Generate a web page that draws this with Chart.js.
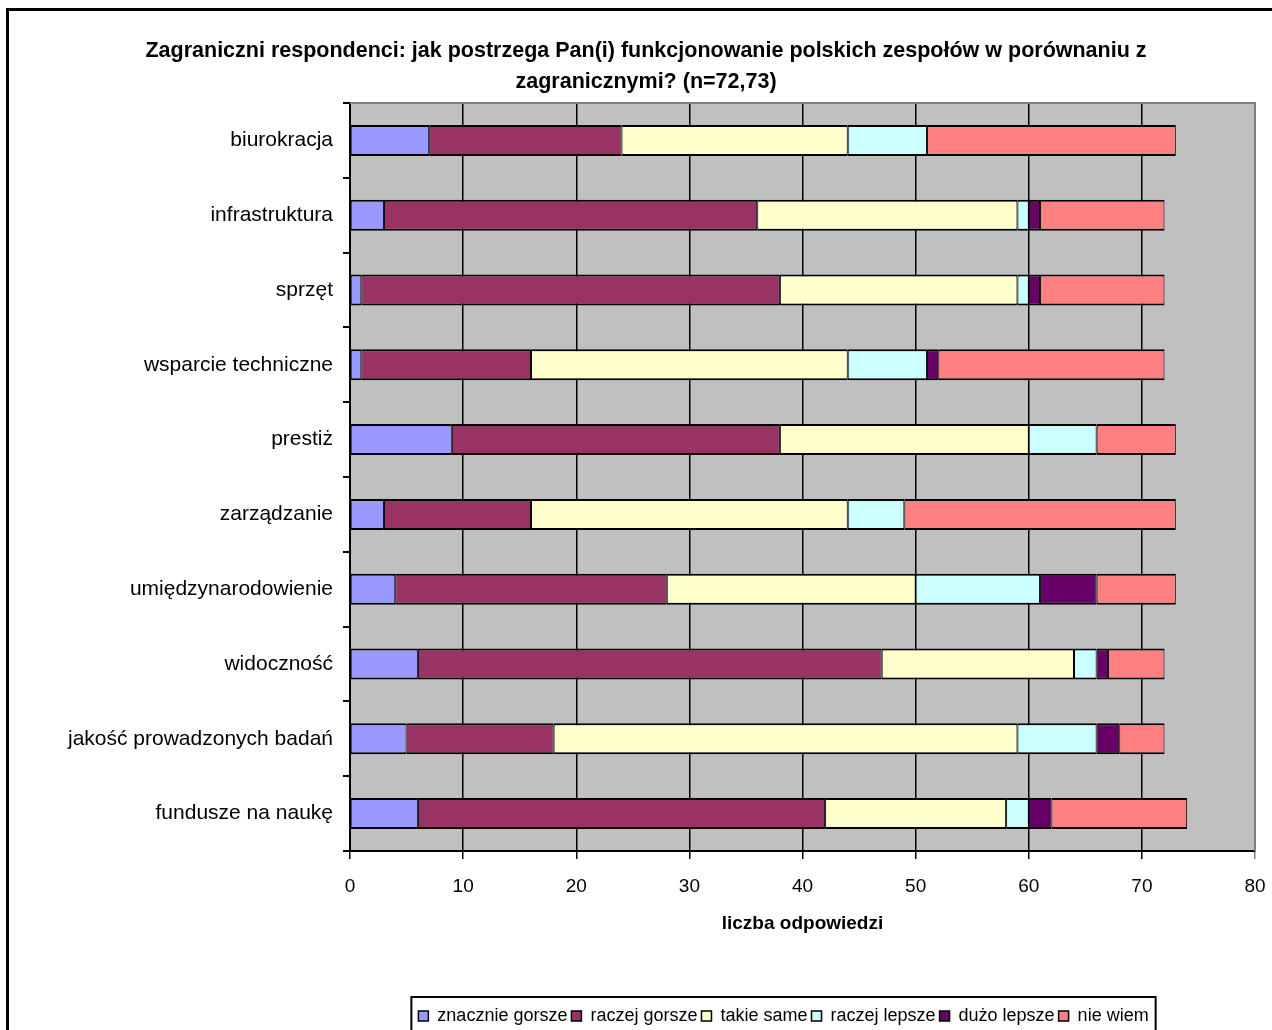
<!DOCTYPE html>
<html>
<head>
<meta charset="utf-8">
<script src="https://cdn.jsdelivr.net/npm/chart.js@4/dist/chart.umd.min.js"></script>
<style>
  html, body { margin: 0; padding: 0; background: #fff; overflow: hidden; }
  #wrap { width: 1272px; height: 1030px; position: relative; }
</style>
</head>
<body>
<div id="wrap"><canvas id="surveyChart"></canvas></div>
<script>
const FONT = '"Liberation Sans", Arial, sans-serif';

// categories, top to bottom
const categories = ['biurokracja', 'infrastruktura', 'sprzęt', 'wsparcie techniczne', 'prestiż',
  'zarządzanie', 'umiędzynarodowienie', 'widoczność', 'jakość prowadzonych badań', 'fundusze na naukę'];

// answers per category
const znacznieGorsze = [7, 3, 1, 1, 9, 3, 4, 6, 5, 6];
const raczejGorsze   = [17, 33, 37, 15, 29, 13, 24, 41, 13, 36];
const takieSame      = [20, 23, 21, 28, 22, 28, 22, 17, 41, 16];
const raczejLepsze   = [7, 1, 1, 7, 6, 5, 11, 2, 7, 2];
const duzoLepsze     = [0, 1, 1, 1, 0, 0, 5, 1, 2, 2];
const nieWiem        = [22, 11, 11, 20, 7, 24, 7, 5, 4, 12];

const xTicks = [0, 10, 20, 30, 40, 50, 60, 70, 80];

const LEGEND_CENTER = 783.5; // legend sits right of centre in the original
const LEGEND_TOP = 1003;
const PLOT_BOTTOM = 851;

function series(label, data, color) {
  return {
    label: label,
    data: data,
    backgroundColor: color,
    borderColor: '#000',
    borderWidth: { top: 2, bottom: 2, left: 1, right: 1 },
    borderSkipped: false,
    categoryPercentage: 0.83,
    barPercentage: 0.5
  };
}

// gray plot background + gray top/right frame + outer frame + legend box
const decorations = {
  id: 'decorations',
  beforeDraw(chart) {
    const { ctx, chartArea: a } = chart;
    ctx.save();
    ctx.fillStyle = '#c0c0c0';
    ctx.fillRect(a.left, a.top, a.right - a.left, a.bottom - a.top);
    ctx.restore();

    // move the legend row to where it is in the original
    const lg = chart.legend;
    if (lg && !lg._moved) {
      const dx = LEGEND_CENTER - (lg.left + lg.right) / 2;
      const dy = LEGEND_TOP - lg.top;
      lg.left += dx; lg.right += dx;
      lg.top += dy; lg.bottom += dy;
      lg._moved = true;
    }
  },
  afterDraw(chart) {
    const { ctx, chartArea: a } = chart;
    ctx.save();
    ctx.strokeStyle = '#808080';
    ctx.lineWidth = 2;
    ctx.beginPath();
    ctx.moveTo(a.left, a.top);
    ctx.lineTo(a.right, a.top);
    ctx.lineTo(a.right, a.bottom);
    ctx.stroke();

    // outer frame (only left and top edges are in view)
    ctx.strokeStyle = '#000';
    ctx.lineWidth = 3;
    ctx.beginPath();
    ctx.moveTo(7.5, 1040);
    ctx.lineTo(7.5, 9.5);
    ctx.lineTo(1280, 9.5);
    ctx.stroke();

    // box around the legend
    const lg = chart.legend;
    if (lg && lg.lineWidths) {
      const pad = lg.options.labels.padding;
      const rowW = lg.lineWidths[0];
      const start = (lg.left + pad + lg.right - rowW) / 2;
      const l = start - 7;
      const r = start + rowW - pad + 7;
      ctx.lineWidth = 2;
      ctx.strokeRect(l, 997, r - l, 60);
    }
    ctx.restore();
  }
};

const ctx = document.getElementById('surveyChart').getContext('2d');
new Chart(ctx, {
  type: 'bar',
  data: {
    labels: categories,
    datasets: [
      series('znacznie gorsze', znacznieGorsze, '#9999ff'),
      series('raczej gorsze', raczejGorsze, '#993366'),
      series('takie same', takieSame, '#ffffcc'),
      series('raczej lepsze', raczejLepsze, '#ccffff'),
      series('dużo lepsze', duzoLepsze, '#660066'),
      series('nie wiem', nieWiem, '#ff8080')
    ]
  },
  options: {
    indexAxis: 'y',
    responsive: true,
    maintainAspectRatio: false,
    animation: false,
    layout: { padding: { left: 37, right: 17, top: 0, bottom: 0 } },
    plugins: {
      title: {
        display: true,
        text: ['Zagraniczni respondenci: jak postrzega Pan(i) funkcjonowanie polskich zespołów w porównaniu z',
               'zagranicznymi? (n=72,73)'],
        color: '#000',
        font: { family: FONT, size: 21.5, weight: 'bold', lineHeight: 31 / 21.5 },
        padding: { top: 36, bottom: 5 }
      },
      legend: {
        display: true,
        position: 'bottom',
        labels: {
          color: '#000',
          font: { family: FONT, size: 18, lineHeight: 1 },
          boxWidth: 10,
          boxHeight: 10,
          padding: 4
        }
      },
      tooltip: { enabled: false }
    },
    scales: {
      x: {
        stacked: true,
        min: 0,
        max: 80,
        afterBuildTicks(scale) {
          scale.ticks = xTicks.map(v => ({ value: v }));
        },
        afterFit(scale) {
          const lg = scale.chart.legend;
          scale.height = 1030 - (lg ? lg.height : 30) - PLOT_BOTTOM;
          scale.paddingRight = 10;
        },
        grid: {
          color: c => (c.tick && c.tick.value === 80 ? '#808080' : '#000'),
          lineWidth: 1.5,
          tickLength: 8
        },
        border: { color: '#000', width: 2 },
        ticks: { color: '#000', font: { family: FONT, size: 19 }, padding: 16 },
        title: {
          display: true,
          text: 'liczba odpowiedzi',
          color: '#000',
          font: { family: FONT, size: 19, weight: 'bold' },
          padding: { top: 0, bottom: 63 }
        }
      },
      y: {
        stacked: true,
        afterFit(scale) { scale.width = 313; },
        grid: {
          drawOnChartArea: false,
          drawTicks: true,
          tickLength: 7,
          color: '#000',
          lineWidth: 2,
          offset: true
        },
        border: { color: '#000', width: 2 },
        ticks: { color: '#000', font: { family: FONT, size: 21 }, padding: 10 }
      }
    }
  },
  plugins: [decorations]
});
</script>
</body>
</html>
